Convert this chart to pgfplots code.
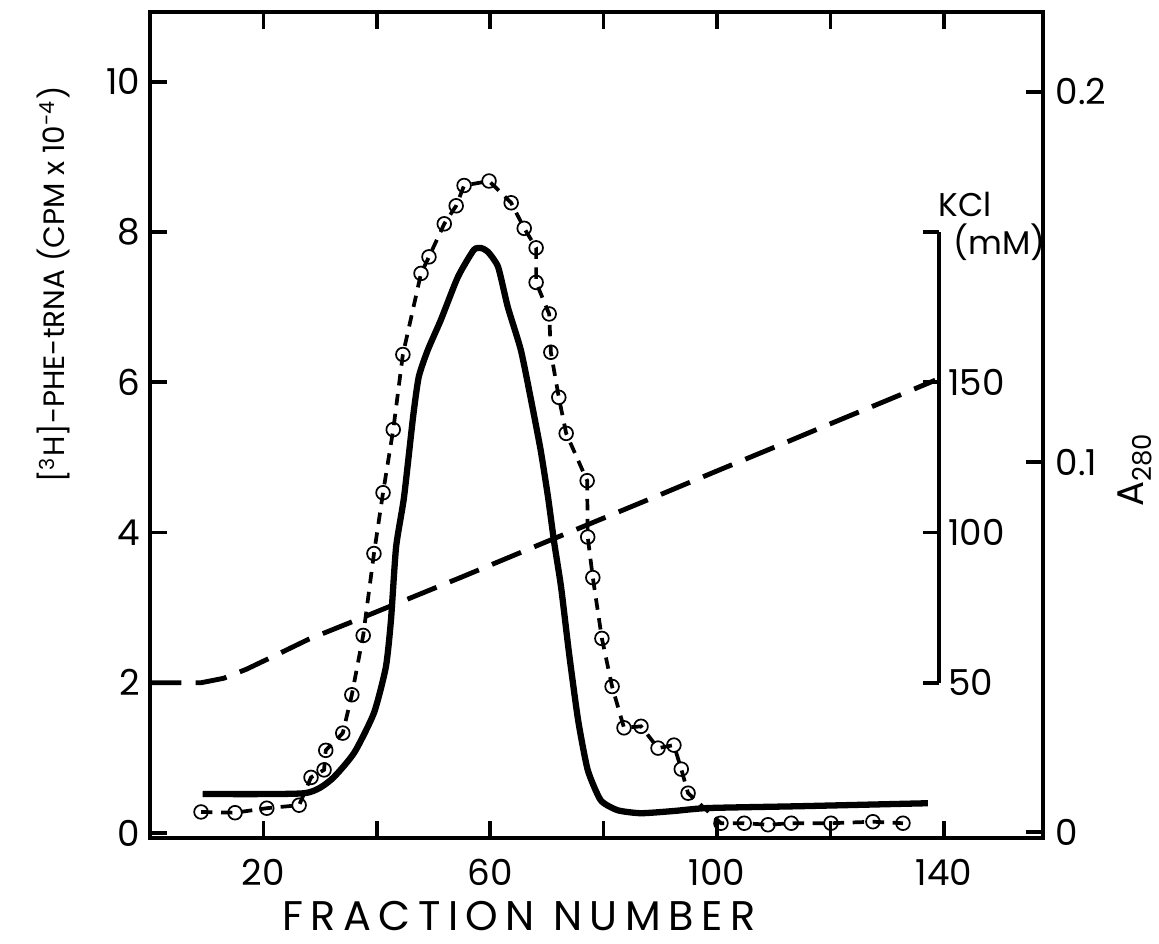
\documentclass[border=0pt]{standalone}
\usepackage{pgfplots}
\pgfplotsset{compat=1.18}
\usepackage{fontspec}
\setmainfont{Poppins}

\pgfplotstableread{
x y
9.0 0.28
15.0 0.27
20.6 0.33
26.3 0.37
28.4 0.74
30.7 0.84
31.0 1.10
34.0 1.33
35.6 1.84
37.6 2.63
39.5 3.72
41.1 4.53
42.9 5.37
44.6 6.37
47.8 7.45
49.2 7.67
51.9 8.11
54.0 8.35
55.4 8.62
59.8 8.68
63.7 8.39
66.0 8.05
68.1 7.79
68.1 7.33
70.4 6.91
70.7 6.40
72.1 5.80
73.4 5.32
77.1 4.69
77.2 3.94
78.1 3.40
79.7 2.59
81.5 1.95
83.6 1.40
86.6 1.42
89.6 1.13
92.4 1.17
93.7 0.85
94.9 0.53
100.7 0.13
104.8 0.13
109.0 0.11
113.1 0.13
120.1 0.13
127.5 0.15
132.8 0.13
}\trna

\pgfplotstableread{
x a
9.3 0.0103
27.2 0.0105
31.9 0.0141
36.0 0.0214
39.5 0.0322
41.6 0.0446
42.5 0.0573
43.4 0.0770
44.8 0.0905
46.4 0.1122
47.4 0.1230
49.0 0.1303
51.3 0.1384
54.3 0.1500
57.1 0.1573
58.4 0.1578
59.6 0.1568
61.4 0.1527
63.1 0.1419
65.4 0.1303
67.2 0.1168
68.9 0.1032
70.2 0.0905
71.3 0.0781
72.5 0.0662
73.9 0.0484
75.5 0.0303
77.2 0.0168
79.5 0.0086
82.5 0.0059
86.6 0.0051
92.4 0.0057
98.4 0.0065
114.8 0.0070
137.2 0.0078
}\absorb

\pgfplotstableread{
x kcl
0 50
9 50
13 51.5
17 54.5
22 59
28 64.5
35 69.8
45 77.5
55 85.2
70 97
80 104.8
90 112.6
100 120.5
110 128.3
120 136.2
130 144
138.5 150.7
}\salt

\begin{document}
\begin{tikzpicture}
\path[use as bounding box] (-52.5pt,-36.75pt) rectangle (353.15pt,293.3pt);

% KCl gradient (own scale, mM)
\begin{axis}[at={(0,0)}, anchor=south west, scale only axis,
  width=312.55pt, height=289.1pt,
  xmin=0, xmax=157.5, ymin=-1.675, ymax=273.25,
  axis lines=none, clip=false]
  \addplot[black, line width=1.7pt, dash pattern=on 11pt off 5pt] table[x=x,y=kcl] {\salt};
  \draw[line width=1.4pt] (axis cs:139.2,50) -- (axis cs:139.2,200);
  \pgfplotsinvokeforeach{50,100,150,200}{
    \draw[line width=1.3pt] (axis cs:139.2,#1) -- (axis cs:136.3,#1);
  }
  \pgfplotsinvokeforeach{50,100,150}{
    \node[anchor=west, inner sep=0pt, font=\fontsize{12.5}{12.5}\selectfont] at ([xshift=3pt]axis cs:139.2,#1) {#1};
  }
  \node[anchor=base west, inner sep=0pt, font=\fontsize{11.5}{11.5}\selectfont] at (axis cs:139.0,205.2) {KCl};
  \node[anchor=base west, inner sep=0pt, font=\fontsize{11.5}{11.5}\selectfont] at (axis cs:141.6,192.6) {(mM)};
\end{axis}

% A280 (right axis)
\begin{axis}[at={(0,0)}, anchor=south west, scale only axis,
  width=312.55pt, height=289.1pt,
  xmin=0, xmax=157.5, ymin=-0.0016, ymax=0.2216,
  axis x line=none, axis y line*=right,
  axis line style={line width=1.4pt},
  ytick={0,0.1,0.2}, yticklabels={0,0.1,0.2},
  tick align=inside, major tick length=6pt,
  tick style={line width=1.3pt, black},
  yticklabel style={font=\fontsize{12.5}{12.5}\selectfont, xshift=1pt},
  ylabel={A\textsubscript{280}},
  ylabel style={at={(axis description cs:1.103,0.446)}, anchor=center, font=\fontsize{13}{13}\selectfont}]
  \addplot[black, line width=2.2pt, smooth, tension=0.35] table[x=x,y=a] {\absorb};
\end{axis}

% tRNA (left axis)
\begin{axis}[at={(0,0)}, anchor=south west, scale only axis,
  width=312.55pt, height=289.1pt,
  xmin=0, xmax=157.5, ymin=-0.067, ymax=10.93,
  axis line style={line width=1.4pt},
  xtick={20,40,...,140}, xticklabels={20,,60,,100,,140},
  ytick={0,2,4,6,8,10}, yticklabels={0,2,4,6,8,10},
  ytick pos=left,
  tick align=inside, major tick length=6pt,
  tick style={line width=1.3pt, black},
  ticklabel style={font=\fontsize{12.5}{12.5}\selectfont},
  xticklabel style={yshift=-4pt},
  xlabel={\addfontfeature{LetterSpace=18}FRACTION NUMBER},
  xlabel style={at={(axis description cs:0.413,-0.094)}, anchor=center, inner sep=0pt, font=\fontsize{14.5}{14.5}\selectfont},
  ylabel={[\textsuperscript{3}H]-PHE-tRNA (CPM x 10\textsuperscript{-4})},
  ylabel style={at={(axis description cs:-0.108,0.67)}, anchor=center, font=\fontsize{10.3}{10.3}\selectfont}]
  \addplot[black, line width=1.3pt, dash pattern=on 4pt off 3pt,
    mark=o, mark size=2.4pt, mark options={solid, line width=0.6pt, fill=white}]
    table[x=x,y=y] {\trna};
\end{axis}
\end{tikzpicture}
\end{document}
